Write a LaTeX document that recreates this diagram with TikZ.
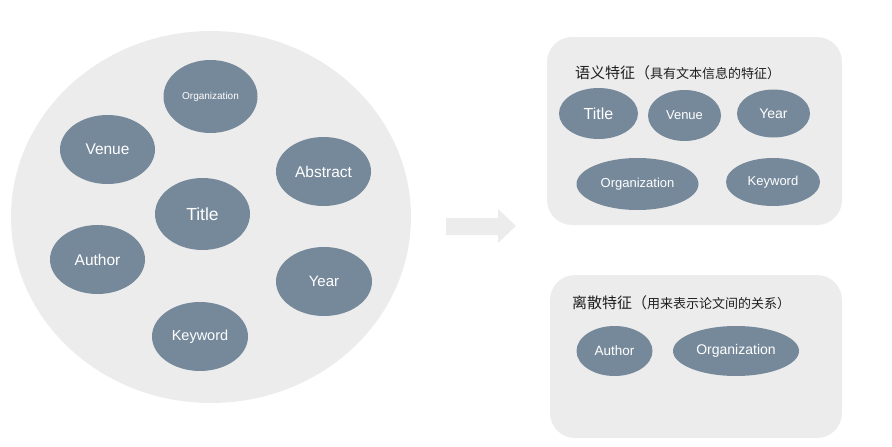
\documentclass[tikz,border=0pt]{standalone}
\usepackage{fontspec}
\setmainfont{Liberation Sans}
\newfontfamily\cjk{Noto Sans CJK SC}
\usepackage{xcolor}
\usepackage{tikz}
\usetikzlibrary{shapes.geometric}
\definecolor{figslate}{RGB}{118, 137, 155}
\definecolor{figgrey}{RGB}{236, 236, 236}
\definecolor{figink}{RGB}{30, 30, 30}
\newcommand{\fsz}[1]{\fontsize{#1}{#1}\selectfont}

\begin{document}
\begin{tikzpicture}[x=1pt, y=-1pt,
  blob/.style={ellipse, fill=figslate, draw=none, inner sep=0pt, text=white},
  head/.style={anchor=west, inner sep=0pt, text=figink}]
\useasboundingbox (0,0) rectangle (892,447);
% Feature pool
\fill[figgrey] (211,217) ellipse [x radius=200, y radius=186];
\node[blob, minimum width=94, minimum height=73, font=\fsz{10}] (org) at (210.5,96.5) {Organization};
\node[blob, minimum width=95, minimum height=69, font=\fsz{15.5}] (venue) at (107.5,149.5) {Venue};
\node[blob, minimum width=95, minimum height=69, font=\fsz{15.5}] (abstract) at (323.5,171.5) {Abstract};
\node[blob, minimum width=95, minimum height=72, font=\fsz{17.5}] (title) at (202.5,214) {Title};
\node[blob, minimum width=95, minimum height=69, font=\fsz{15.5}] (author) at (97.5,259.5) {Author};
\node[blob, minimum width=96, minimum height=69, font=\fsz{15}] (year) at (324,281.5) {Year};
\node[blob, minimum width=96, minimum height=69, font=\fsz{14.5}] (keyword) at (200,336.5) {Keyword};

% Arrow
\fill[figgrey] (446,218) -- (498,218) -- (498,209) -- (516,226) -- (498,243) -- (498,235) -- (446,235) -- cycle;

% Semantic features
\fill[figgrey, rounded corners=25] (547,37) rectangle (842,225);
\node[head] (semhead) at (575,73) {\cjk\fsz{15}语义特征（{\fsz{13}具有文本信息的特征）}};
\node[blob, minimum width=79, minimum height=51, font=\fsz{16}] (stitle) at (598.5,113.5) {Title};
\node[blob, minimum width=73, minimum height=51, font=\fsz{13}] (svenue) at (684.5,115.5) {Venue};
\node[blob, minimum width=73, minimum height=48, font=\fsz{14}] (syear) at (773.5,113.5) {Year};
\node[blob, minimum width=122, minimum height=52, font=\fsz{13}] (sorg) at (637.5,184) {Organization};
\node[blob, minimum width=94, minimum height=48, font=\fsz{13}] (skeyword) at (773,182) {Keyword};

% Discrete features
\fill[figgrey, rounded corners=25] (550,275) rectangle (842,438);
\node[head] (dishead) at (572,303) {\cjk\fsz{15}离散特征（{\fsz{13}用来表示论文间的关系）}};
\node[blob, minimum width=76, minimum height=50, font=\fsz{13.5}] (dauthor) at (614.5,351) {Author};
\node[blob, minimum width=126, minimum height=50, font=\fsz{14}] (dorg) at (736,351) {Organization};
\end{tikzpicture}
\end{document}
